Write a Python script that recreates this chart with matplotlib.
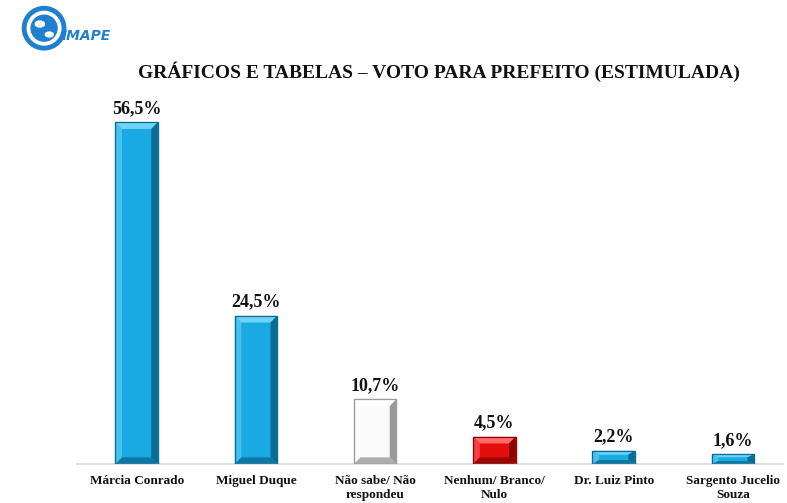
import matplotlib
matplotlib.use("Agg")
import matplotlib.pyplot as plt
from matplotlib.patches import Polygon, Circle, Ellipse

categories = ["Márcia Conrado", "Miguel Duque", "Não sabe/ Não\nrespondeu",
              "Nenhum/ Branco/\nNulo", "Dr. Luiz Pinto", "Sargento Jucelio\nSouza"]
values = [56.5, 24.5, 10.7, 4.5, 2.2, 1.6]
labels = ["56,5%", "24,5%", "10,7%", "4,5%", "2,2%", "1,6%"]
face = ["#19a9e3", "#19a9e3", "#fbfbfb", "#e50d0d", "#19a9e3", "#19a9e3"]
light = ["#6fd3f7", "#6fd3f7", "#ffffff", "#ff6b6b", "#6fd3f7", "#6fd3f7"]
dark = ["#0b6c93", "#0b6c93", "#9a9a9a", "#8a0505", "#0b6c93", "#0b6c93"]
edge = ["#0a5f82", "#0a5f82", "#5aa0c0", "#a00000", "#0a5f82", "#0a5f82"]

serif = ["Liberation Serif", "DejaVu Serif"]

fig = plt.figure(figsize=(7.87, 5.03), dpi=100)
ax = fig.add_axes([77/787, 39/503, 706/787, 364/503])
ax.set_xlim(-0.5, 5.42)
ax.set_ylim(0, 60.2)

x = list(range(len(values)))
bw = 0.355
bars = ax.bar(x, values, width=bw, color=face, edgecolor=edge, linewidth=0.8, zorder=2)

# bevel effect derived from each bar's geometry
for b, lc, dc in zip(bars, light, dark):
    x0, y0 = b.get_x(), b.get_y()
    w, h = b.get_width(), b.get_height()
    dx = 0.055
    dy = min(1.1, h * 0.3)
    ix0, ix1 = x0 + dx, x0 + w - dx
    iy0, iy1 = y0 + dy, y0 + h - dy
    X0, X1, Y0, Y1 = x0, x0 + w, y0, y0 + h
    ax.add_patch(Polygon([(X0, Y1), (X1, Y1), (ix1, iy1), (ix0, iy1)], closed=True,
                         facecolor=lc, edgecolor="none", zorder=3))
    ax.add_patch(Polygon([(X0, Y0), (X0, Y1), (ix0, iy1), (ix0, iy0)], closed=True,
                         facecolor=lc, edgecolor="none", alpha=0.55, zorder=3))
    ax.add_patch(Polygon([(X1, Y0), (X1, Y1), (ix1, iy1), (ix1, iy0)], closed=True,
                         facecolor=dc, edgecolor="none", zorder=3))
    ax.add_patch(Polygon([(X0, Y0), (X1, Y0), (ix1, iy0), (ix0, iy0)], closed=True,
                         facecolor=dc, edgecolor="none", alpha=0.8, zorder=3))
    ax.add_patch(Polygon([(X0, Y0), (X1, Y0), (X1, Y1), (X0, Y1)], closed=True,
                         facecolor="none", edgecolor=dc, linewidth=0.9, zorder=4))

for xi, v, lab in zip(x, values, labels):
    ax.annotate(lab, (xi, v), xytext=(0, 4), textcoords="offset points",
                ha="center", va="bottom", fontsize=13, fontweight="bold",
                family=serif, color="#111111")

for s in ["top", "right", "left"]:
    ax.spines[s].set_visible(False)
ax.spines["bottom"].set_color("#d9d9d9")
ax.spines["bottom"].set_linewidth(1.2)
ax.set_yticks([])
ax.set_xticks(x)
ax.set_xticklabels(categories, fontsize=9.5, fontweight="bold", family=serif,
                   color="#111111", linespacing=1.2)
ax.tick_params(axis="x", length=0, pad=8)

fig.text(0.558, 0.857, "GRÁFICOS E TABELAS – VOTO PARA PREFEITO (ESTIMULADA)",
         ha="center", va="center", fontsize=14, fontweight="bold", family=serif,
         color="#111111")

# logo
lax = fig.add_axes([0.02, 0.895, 0.16, 0.10])
lax.set_xlim(0, 120)
lax.set_ylim(0, 45)
lax.set_aspect("equal")
lax.axis("off")
lax.add_patch(Circle((27, 22), 19, facecolor="none", edgecolor="#1f7fd0", linewidth=3.5))
lax.add_patch(Circle((27, 22), 13, facecolor="#1f7fd0", edgecolor="none"))
lax.add_patch(Ellipse((23, 26), 10, 7, facecolor="white", edgecolor="none"))
lax.add_patch(Ellipse((32, 16), 9, 6, facecolor="white", edgecolor="none"))
lax.text(44, 15, "IMAPE", fontsize=10, fontstyle="italic", fontweight="bold",
         color="#1f7fd0", family=["DejaVu Sans"], ha="left", va="center")

fig.savefig("out.png", dpi=100)
